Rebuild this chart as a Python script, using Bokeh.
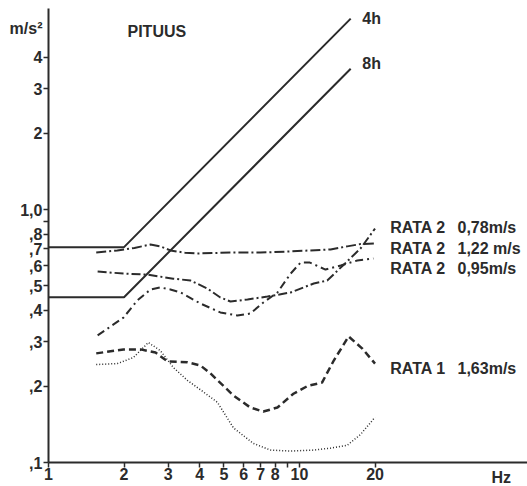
from bokeh.plotting import figure
from bokeh.models import FixedTicker, Label
from bokeh.embed import file_html
from bokeh.resources import INLINE

# ---- data ----
limit_f = [1, 2, 16]
limit_4h = [0.71, 0.71, 5.68]
limit_8h = [0.45, 0.45, 3.6]

r2a_f = [1.55, 1.88, 2.2, 2.55, 2.79, 3.06, 3.5, 3.92, 5.3, 6.98, 9.0, 11.0, 13.3, 15.5, 17.5, 20.0]
r2a_y = [0.676, 0.689, 0.705, 0.727, 0.715, 0.689, 0.675, 0.670, 0.676, 0.676, 0.682, 0.689, 0.695, 0.715, 0.730, 0.734]

r2b_f = [1.57, 1.99, 2.48, 3.14, 3.68, 4.30, 4.84, 5.31, 6.21, 7.46, 9.22, 11.4, 12.9, 14.9, 17.5, 20.0]
r2b_y = [0.569, 0.558, 0.553, 0.533, 0.524, 0.487, 0.449, 0.433, 0.441, 0.453, 0.470, 0.510, 0.524, 0.601, 0.701, 0.841]

r2c_f = [1.57, 1.99, 2.26, 2.55, 2.79, 3.06, 3.36, 4.03, 4.84, 5.66, 6.37, 7.18, 8.17, 9.22, 10.1, 11.0, 12.7, 14.6, 17.0, 19.7]
r2c_y = [0.318, 0.374, 0.437, 0.483, 0.492, 0.483, 0.470, 0.425, 0.392, 0.381, 0.388, 0.429, 0.470, 0.558, 0.617, 0.617, 0.579, 0.601, 0.629, 0.640]

r1a_f = [1.55, 1.99, 2.33, 2.67, 2.98, 3.58, 4.03, 4.42, 5.46, 6.37, 7.18, 8.17, 9.46, 10.8, 12.3, 13.7, 15.7, 17.8, 20.0]
r1a_y = [0.270, 0.280, 0.280, 0.272, 0.251, 0.249, 0.242, 0.225, 0.184, 0.165, 0.159, 0.165, 0.187, 0.201, 0.207, 0.253, 0.315, 0.282, 0.246]

r1b_f = [1.55, 1.88, 2.18, 2.50, 2.79, 3.15, 3.58, 4.03, 4.71, 5.46, 6.55, 7.66, 9.22, 11.4, 13.3, 15.5, 17.5, 20.0]
r1b_y = [0.244, 0.246, 0.260, 0.298, 0.277, 0.237, 0.211, 0.194, 0.173, 0.137, 0.119, 0.112, 0.111, 0.112, 0.114, 0.117, 0.129, 0.151]

y_ticks = [0.1, 0.2, 0.3, 0.4, 0.5, 0.6, 0.7, 0.8, 0.9, 1.0, 2, 3, 4]
y_labels = [",1", ",2", ",3", ",4", ",5", ",6", ",7", ",8", "", "1,0", "2", "3", "4"]
x_ticks = [1, 2, 3, 4, 5, 6, 7, 8, 9, 10, 20]
x_labels = ["1", "2", "3", "4", "5", "6", "7", "8", "", "10", "20"]

INK = "#2b2b2b"
FONT = "Liberation Sans"

# frame covers the whole canvas; axes are pinned at x=1 / y=0.1
p = figure(width=527, height=486, x_axis_type="log", y_axis_type="log",
           x_range=(0.6441, 81), y_range=(0.0804, 6.70),
           output_backend="svg", toolbar_location=None)
p.min_border_left = 0
p.min_border_right = 0
p.min_border_top = 0
p.min_border_bottom = 0
p.outline_line_color = None
p.xgrid.visible = False
p.ygrid.visible = False
p.background_fill_color = "white"
p.border_fill_color = "white"

for ax, ticks, labels in ((p.xaxis[0], x_ticks, x_labels), (p.yaxis[0], y_ticks, y_labels)):
    ax.ticker = FixedTicker(ticks=ticks, minor_ticks=[])
    ax.major_label_overrides = {t: l for t, l in zip(ticks, labels)}
    ax.axis_line_color = INK
    ax.axis_line_width = 2
    ax.major_tick_line_color = INK
    ax.major_tick_line_width = 1.5
    ax.major_tick_in = 0
    ax.major_tick_out = 5
    ax.minor_tick_line_color = None
    ax.major_label_text_font = FONT
    ax.major_label_text_font_style = "bold"
    ax.major_label_text_font_size = "16px"
    ax.major_label_text_color = INK
p.xaxis.fixed_location = 0.1
p.xaxis.bounds = (1, 81)
p.yaxis.fixed_location = 1
p.yaxis.bounds = (0.1, 6.23)
p.xaxis.major_label_standoff = 0
p.yaxis.major_label_standoff = 1

# limit curves
p.line(limit_f, limit_4h, line_color=INK, line_width=2)
p.line(limit_f, limit_8h, line_color=INK, line_width=2)

# measured curves
p.line(r2a_f, r2a_y, line_color=INK, line_width=2, line_dash="10 3 2 3")
p.line(r2b_f, r2b_y, line_color=INK, line_width=2, line_dash="9 3 2 3")
p.line(r2c_f, r2c_y, line_color=INK, line_width=2, line_dash="8 4 2 4")
p.line(r1a_f, r1a_y, line_color=INK, line_width=2.5, line_dash="7 4")
p.line(r1b_f, r1b_y, line_color=INK, line_width=1.5, line_dash="1 2")

def add_label(x, y, text, size="16px", style="bold"):
    p.add_layout(Label(x=x, y=y, text=text,
                       text_font=FONT, text_font_size=size,
                       text_font_style=style, text_color=INK, text_baseline="middle",
                       text_align="left"))

add_label(2.065, 5.05, "PITUUS")
add_label(17.8, 5.69, "4h")
add_label(17.8, 3.78, "8h")
add_label(23.0, 0.849, "RATA 2 \u20020,78m/s")
add_label(23.0, 0.701, "RATA 2 \u20021,22 m/s")
add_label(23.0, 0.585, "RATA 2 \u20020,95m/s")
add_label(23.0, 0.235, "RATA 1 \u20021,63m/s")
add_label(0.70, 5.19, "m/s\u00b2")
add_label(58.2, 0.0872, "Hz")

open("out.html", "w").write(file_html(p, INLINE))
